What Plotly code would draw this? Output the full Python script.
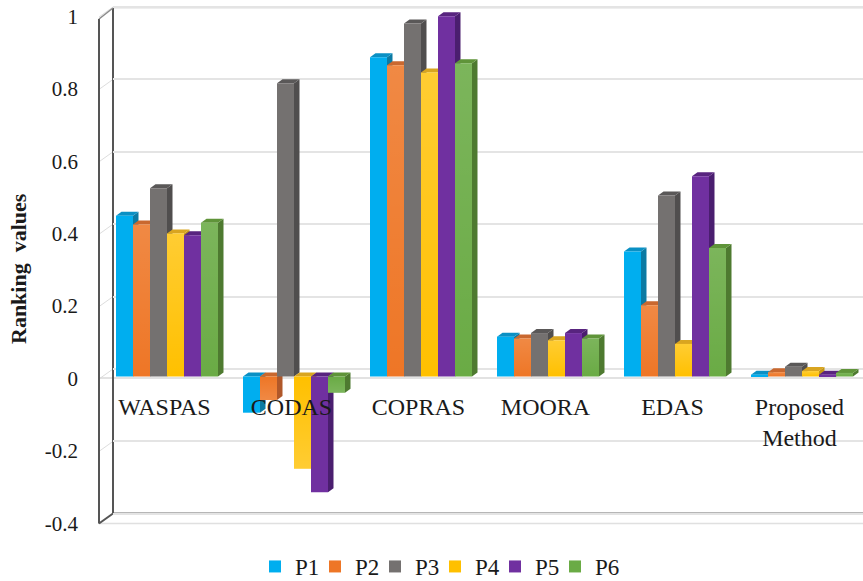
import plotly.graph_objects as go

W, H = 863, 581
categories = ["WASPAS", "CODAS", "COPRAS", "MOORA", "EDAS", "Proposed<br>Method"]
series_names = ["P1", "P2", "P3", "P4", "P5", "P6"]
P1 = [0.444, -0.100, 0.882, 0.110, 0.345, 0.005]
P2 = [0.420, -0.065, 0.860, 0.105, 0.197, 0.012]
P3 = [0.520, 0.810, 0.975, 0.120, 0.500, 0.027]
P4 = [0.395, -0.255, 0.840, 0.100, 0.090, 0.015]
P5 = [0.390, -0.320, 0.995, 0.120, 0.553, 0.005]
P6 = [0.425, -0.045, 0.865, 0.105, 0.355, 0.010]
series_values = [P1, P2, P3, P4, P5, P6]
y_ticks = [-0.4, -0.2, 0, 0.2, 0.4, 0.6, 0.8, 1]

front_colors = ["#00AEEF", "#EE7626", "#747170", "#FFC000", "#7030A0", "#6AAB45"]
top_colors = ["#0A90C4", "#C9682F", "#5A5858", "#D9A520", "#58247F", "#5F9439"]
side_colors = ["#0B7AA3", "#B0582A", "#504E4E", "#C49614", "#4A1E6F", "#4E7A30"]
sheen = [0.0, 0.14, 0.0, 0.2, 0.0, 0.12]

PX_PER_UNIT = 362.0
PX_PER_GROUP = 127.0
FIRST_CENTER_PX = 167.0
ZERO_FRONT_PX = 376.5
ZERO_BACK_PX = 369.0
PLOT_LEFT_PX = 99.0
WALL_LEFT_PX = 113.0
BAR_PX = 17.0
DEPTH_X = 5.5 / PX_PER_GROUP
DEPTH_Y = 4.0 / PX_PER_UNIT
BARGAP = 1 - 6 * BAR_PX / PX_PER_GROUP
BW = BAR_PX / PX_PER_GROUP
FONT = "Liberation Serif"
xs = list(range(len(categories)))


def px(x):
    return x / W


def py(y):
    return 1 - y / H


x_range = [(PLOT_LEFT_PX - FIRST_CENTER_PX) / PX_PER_GROUP, (W - FIRST_CENTER_PX) / PX_PER_GROUP]
y_front = [(ZERO_FRONT_PX - H) / PX_PER_UNIT, ZERO_FRONT_PX / PX_PER_UNIT]
y_back = [(ZERO_BACK_PX - H) / PX_PER_UNIT, ZERO_BACK_PX / PX_PER_UNIT]

fig = go.Figure()
fig.add_trace(go.Scatter(x=[0], y=[0], mode="none", showlegend=False, hoverinfo="skip", xaxis="x", yaxis="y"))

for s, vals in enumerate(series_values):
    sx, sy, tx, ty = [], [], [], []
    for k, v in zip(xs, vals):
        xl = k - 3 * BW + s * BW
        xr = xl + BW
        hi, lo = max(v, 0), min(v, 0)
        sx += [xr, xr, xr + DEPTH_X, xr + DEPTH_X, xr, None]
        sy += [lo, hi, hi + DEPTH_Y, lo + DEPTH_Y, lo, None]
        tx += [xl, xl + DEPTH_X, xr + DEPTH_X, xr, xl, None]
        ty += [hi, hi + DEPTH_Y, hi + DEPTH_Y, hi, hi, None]
    fig.add_trace(go.Scatter(x=sx, y=sy, mode="lines", line=dict(width=0), fill="toself", fillcolor=side_colors[s],
                             showlegend=False, hoverinfo="skip", xaxis="x2", yaxis="y2"))
    fig.add_trace(go.Scatter(x=tx, y=ty, mode="lines", line=dict(width=0), fill="toself", fillcolor=top_colors[s],
                             showlegend=False, hoverinfo="skip", xaxis="x2", yaxis="y2"))

for s, vals in enumerate(series_values):
    fig.add_trace(go.Bar(x=xs, y=vals, name=series_names[s], marker=dict(color=front_colors[s], line=dict(width=0)),
                         xaxis="x3", yaxis="y3"))

for s, vals in enumerate(series_values):
    if sheen[s] == 0:
        continue
    for k, v in zip(xs, vals):
        xl = k - 3 * BW + s * BW
        xr = xl + BW
        hi, lo = max(v, 0), min(v, 0)
        strength = f"rgba(255,255,255,{sheen[s]})"
        clear = "rgba(255,255,255,0)"
        stops = [[0, clear], [1, strength]] if v > 0 else [[0, strength], [1, clear]]
        fig.add_trace(go.Scatter(x=[xl, xr, xr, xl, xl], y=[lo, lo, hi, hi, lo], mode="lines", line=dict(width=0),
                                 fill="toself", fillgradient=dict(type="vertical", colorscale=stops),
                                 showlegend=False, hoverinfo="skip", xaxis="x3", yaxis="y3"))

# blank trailing legend slot: keeps the narrow legend box from clipping the P6 label
fig.add_trace(go.Scatter(x=[0], y=[0], name="\u00a0", mode="markers", marker=dict(color="rgba(0,0,0,0)", size=1),
                         hoverinfo="skip", xaxis="x2", yaxis="y2"))

shapes = []


def seg(x0, y0, x1, y1, color, width):
    shapes.append(dict(type="line", xref="paper", yref="paper", x0=px(x0), y0=py(y0), x1=px(x1), y1=py(y1),
                       line=dict(color=color, width=width), layer="below"))


for t in y_ticks:
    yb = ZERO_BACK_PX - t * PX_PER_UNIT
    seg(PLOT_LEFT_PX, yb + 10, WALL_LEFT_PX, yb, "#DDDDDD", 1)
seg(PLOT_LEFT_PX, 378, W, 378, "#D9D9D9", 1.5)
seg(PLOT_LEFT_PX, 523.5, W, 523.5, "#E0E0E0", 1.5)
seg(WALL_LEFT_PX, 513.5, W, 513.5, "#6E6E6E", 2)
seg(WALL_LEFT_PX, 7.5, W, 7.5, "#BDBDBD", 1.5)
seg(WALL_LEFT_PX, 8, WALL_LEFT_PX, 513.5, "#555555", 2)
seg(PLOT_LEFT_PX, 19, PLOT_LEFT_PX, 523.5, "#555555", 2)
seg(PLOT_LEFT_PX, 523.5, WALL_LEFT_PX, 513.5, "#555555", 2)
seg(PLOT_LEFT_PX, 19, WALL_LEFT_PX, 8, "#8A8A8A", 1.5)

hidden = dict(visible=False, fixedrange=True)
fig.update_layout(
    width=W, height=H, autosize=False,
    margin=dict(l=0, r=0, t=0, b=0, pad=0, autoexpand=False),
    paper_bgcolor="white", plot_bgcolor="rgba(0,0,0,0)",
    barmode="group", bargap=BARGAP, bargroupgap=0,
    font=dict(family=FONT, color="#1A1A1A", size=21),
    xaxis=dict(domain=[px(WALL_LEFT_PX), 1], range=[0, 1], **hidden),
    yaxis=dict(domain=[0, 1], range=y_back, anchor="x", showgrid=True, gridcolor="#E4E4E4", gridwidth=1.5,
               tickmode="array", tickvals=y_ticks, showticklabels=False, zeroline=False, showline=False, fixedrange=True),
    xaxis2=dict(domain=[px(PLOT_LEFT_PX), 1], range=x_range, anchor="y2", **hidden),
    yaxis2=dict(domain=[0, 1], range=y_front, anchor="x2", **hidden),
    xaxis3=dict(domain=[px(PLOT_LEFT_PX), 1], range=x_range, anchor="free", position=py(390),
                tickmode="array", tickvals=[k - 0.02 for k in xs], ticktext=categories, ticklen=0,
                showgrid=False, zeroline=False, showline=False, tickangle=0, fixedrange=True,
                tickfont=dict(family=FONT, size=24, color="#1A1A1A")),
    yaxis3=dict(domain=[0, 1], range=y_front, anchor="x3", tickmode="array", tickvals=y_ticks,
                ticktext=["-0.4", "-0.2", "0", "0.2", "0.4", "0.6", "0.8", "1"],
                showgrid=False, zeroline=False, showline=False, ticklen=0, ticklabelstandoff=20, ticklabelshift=2,
                fixedrange=True, tickfont=dict(family=FONT, size=21, color="#1A1A1A")),
    legend=dict(orientation="h", x=px(255), xanchor="left", y=py(545), yanchor="top",
                entrywidth=15, entrywidthmode="pixels", font=dict(family=FONT, size=23, color="#1A1A1A"),
                bgcolor="rgba(0,0,0,0)", traceorder="normal"),
    shapes=shapes,
    annotations=[dict(text="<b>Ranking\u00a0\u00a0values</b>", xref="paper", yref="paper", x=px(18), y=py(269), showarrow=False,
                      textangle=-90, xanchor="center", yanchor="middle", font=dict(family=FONT, size=22, color="#1A1A1A"))],
)
fig.write_html("out.html", config={"displayModeBar": False},
               post_script="document.body.style.margin='0';document.body.style.overflow='hidden';")
